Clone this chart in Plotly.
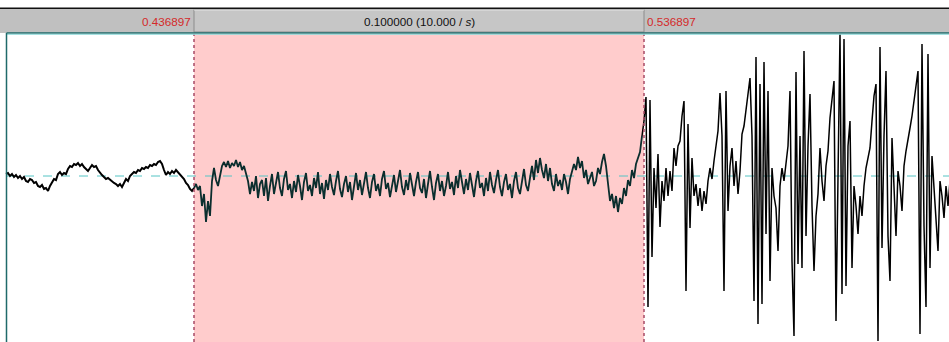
import numpy as np
import plotly.graph_objects as go

# Selection bounds (s) and waveform sampling step (s)
sel_start = 0.436897
sel_end = 0.536897
dt = 2 / 4500.0
view_start = 0.3937859
view_end = 0.6046748

# Waveform amplitude before the selection
pre = [2, 3, 0, 2, -1, 1, -2, 0, -3, -1, -5, -6, -3, -4, -7, -6, -10, -11, -9, -13,
       -12, -15, -10, -7, -3, -4, 2, 4, 1, 3, 2, 7, 10, 9, 12, 11, 13, 10, 12, 9,
       7, 5, 8, 11, 9, 10, 6, 3, 1, -1, -3, -2, -4, -5, -7, -8, -10, -8, -11, -7,
       -3, -5, 0, 2, 4, 3, 6, 5, 8, 7, 9, 8, 11, 10, 12, 11, 14, 15, 12, 6,
       1, 4, 2, 5, 3, 6, 4, 2, -1, -3, -7, -9, -13, -15]

# Waveform amplitude inside the selection
sel = [-12, -8, -14, -10, -30, -18, -46, -25, -40, -5, 8, -4, -10, 2, 10, 14, 9, 15, 8, 13,
       10, 16, 9, 14, 6, 10, 2, -5, -18, -6, -15, 0, -22, -8, -4, -20, -2, -25, -10, 2,
       -18, -6, 4, -12, -20, -3, 5, -14, -8, -22, -5, -16, 1, -10, -24, -6, 3, -15, -9, -20,
       -2, -12, 4, -18, -7, -23, -4, -14, 2, -11, -19, -5, 5, -13, -21, -8, 0, -16, -6, -24,
       -10, 3, -14, -4, -19, -9, 4, -12, -22, -6, 2, -15, -8, -20, -3, 5, -13, -7, -21, -10,
       1, -16, -5, 6, -11, -19, -4, -14, 3, -9, -20, -6, 4, -12, -17, -3, -22, -8, 5, -11,
       -24, -7, 2, -15, -5, -20, -10, 4, -13, -6, -19, 0, -12, 6, -8, -18, -3, -14, 3, -10,
       -21, -5, 5, -12, -7, -20, -2, -15, 4, -9, -17, -4, 6, -11, -20, -6, 2, -14, -8, -22,
       -5, 4, -12, -18, -3, 7, -9, -15, -2, 10, -4, 16, 3, 18, 6, -2, 12, -5, 8, -8,
       -15, 2, -10, -4, -14, 2, -6, -18, -3, 4, 12, 6, 19, 8, 15, -2, 6, -8, -3, 4,
       -10, -5, 8, 2, 14, 22, 10, -5, -25, -18, -32, -20, -36, -22, -28, -12, -20, -4, -10, 6,
       -2, 12, 18, 24, 40]

# Waveform amplitude after the selection
post = [55, 79, -131, 76, -81, 8, -32, 22, -51, -5, -25, 8, -20, 5, -15, 28, 10, 30, 35, 60,
        75, -115, 52, -52, 18, -20, -8, -30, -12, -35, -15, -28, -5, 8, -3, 15, 30, 45, 83, 40,
        -115, 85, -35, 10, 28, -10, 15, -18, 5, 42, 50, 65, 80, 98, 40, -125, 119, -148, 92, -128,
        114, -58, 85, -105, 8, -20, -32, -75, -10, 8, -5, 10, 30, 85, -85, -160, 104, -88, 40, -92,
        125, -60, 30, 82, -30, -95, -40, -18, 28, -5, -25, 10, 25, 58, 75, 95, -145, 20, 142, -118,
        137, -110, 30, 55, -92, -10, -30, -58, -20, -40, -10, 8, 20, 28, 55, 80, 92, -165, 129, -72,
        40, 105, -60, -105, 38, -20, -60, 5, -10, -35, 10, 25, 35, 48, 60, 75, 90, 105, -158, 132,
        -50, -131, 122, -92, 20, -10, -40, -75, -5, -20, -42, -10, -30, -5]

t_pre = sel_start - dt * (len(pre) - np.arange(len(pre)))
t_sel = sel_start + dt * np.arange(len(sel))
t_post = sel_end + dt * np.arange(len(post))

W, H = 949, 342
BAR_TOP, BAR_BOT = 9, 33   # header bar, pixel rows
PLOT_TOP = 34


def py(p):
    """pixel row -> paper y"""
    return 1 - p / H


def px(p):
    """pixel column -> paper x"""
    return p / W


fig = go.Figure()

# waveform: outside parts in black, selected part in dark teal
fig.add_trace(go.Scatter(x=list(t_pre) + [t_sel[0]], y=pre + [sel[0]], mode="lines",
                         line=dict(color="#000000", width=2.0), hoverinfo="skip"))
fig.add_trace(go.Scatter(x=t_sel, y=sel, mode="lines",
                         line=dict(color="#0b2e2e", width=1.8), hoverinfo="skip"))
fig.add_trace(go.Scatter(x=[t_sel[-1]] + list(t_post), y=[sel[-1]] + post, mode="lines",
                         line=dict(color="#000000", width=1.5), hoverinfo="skip"))

shapes = []
# selection highlight
shapes.append(dict(type="rect", xref="x", yref="y domain", x0=sel_start, x1=sel_end,
                   y0=0, y1=1, fillcolor="#ffcccc", line_width=0, layer="below"))
# zero line
shapes.append(dict(type="line", xref="paper", yref="y", x0=px(7), x1=1, y0=0, y1=0,
                   line=dict(color="#55c4c4", width=1, dash="dash"), layer="below"))
# selection borders
for t in (sel_start, sel_end):
    shapes.append(dict(type="line", xref="x", yref="paper", x0=t, x1=t, y0=0, y1=py(PLOT_TOP),
                       line=dict(color="#a84a66", width=1.5, dash="dot"), layer="above"))
# header bar
shapes.append(dict(type="rect", xref="paper", yref="paper", x0=0, x1=1,
                   y0=py(BAR_BOT), y1=py(BAR_TOP), fillcolor="#c0c0c0", line_width=0))
shapes.append(dict(type="line", xref="paper", yref="paper", x0=0, x1=1,
                   y0=py(8.3), y1=py(8.3), line=dict(color="#111111", width=1.6)))
# selection button in the header
shapes.append(dict(type="rect", xref="x", yref="paper", x0=sel_start, x1=sel_end,
                   y0=py(BAR_BOT - 1), y1=py(BAR_TOP + 0.5), fillcolor="#c6c6c6",
                   line=dict(color="#8c8c8c", width=1)))
shapes.append(dict(type="line", xref="x", yref="paper", x0=sel_start, x1=sel_end,
                   y0=py(BAR_TOP + 1), y1=py(BAR_TOP + 1), line=dict(color="#e4e4e4", width=1)))
# plot frame: top and left edges
shapes.append(dict(type="line", xref="paper", yref="paper", x0=px(6.5), x1=1,
                   y0=py(33), y1=py(33), line=dict(color="#1f6a6a", width=1.5)))
shapes.append(dict(type="line", xref="paper", yref="paper", x0=px(6.5), x1=1,
                   y0=py(34.3), y1=py(34.3), line=dict(color="#8fdada", width=1)))
shapes.append(dict(type="line", xref="paper", yref="paper", x0=px(6.5), x1=px(6.5),
                   y0=0, y1=py(33), line=dict(color="#1f6a6a", width=1.5)))

font = dict(family="Liberation Sans, Arial, sans-serif", size=11.7)
annotations = [
    dict(text="0.436897", xref="x", yref="paper", x=sel_start, y=py(21.5),
         xanchor="right", yanchor="middle", xshift=-1, showarrow=False,
         font=dict(font, color="#d42a2a")),
    dict(text="0.536897", xref="x", yref="paper", x=sel_end, y=py(21.5),
         xanchor="left", yanchor="middle", xshift=1, showarrow=False,
         font=dict(font, color="#d42a2a")),
    dict(text="0.100000 (10.000 / <i>s</i>)", xref="x", yref="paper",
         x=(sel_start + sel_end) / 2, y=py(21.5), xanchor="center", yanchor="middle",
         showarrow=False, font=dict(font, color="#111111")),
]

fig.update_layout(
    width=W, height=H,
    margin=dict(l=0, r=0, t=0, b=0),
    paper_bgcolor="#ffffff", plot_bgcolor="#ffffff",
    showlegend=False,
    shapes=shapes,
    annotations=annotations,
    xaxis=dict(range=[view_start, view_end], domain=[0, 1], visible=False,
               showgrid=False, zeroline=False),
    yaxis=dict(range=[-166, 142], domain=[0, py(PLOT_TOP)], visible=False,
               showgrid=False, zeroline=False),
)

fig.write_html("out.html")
